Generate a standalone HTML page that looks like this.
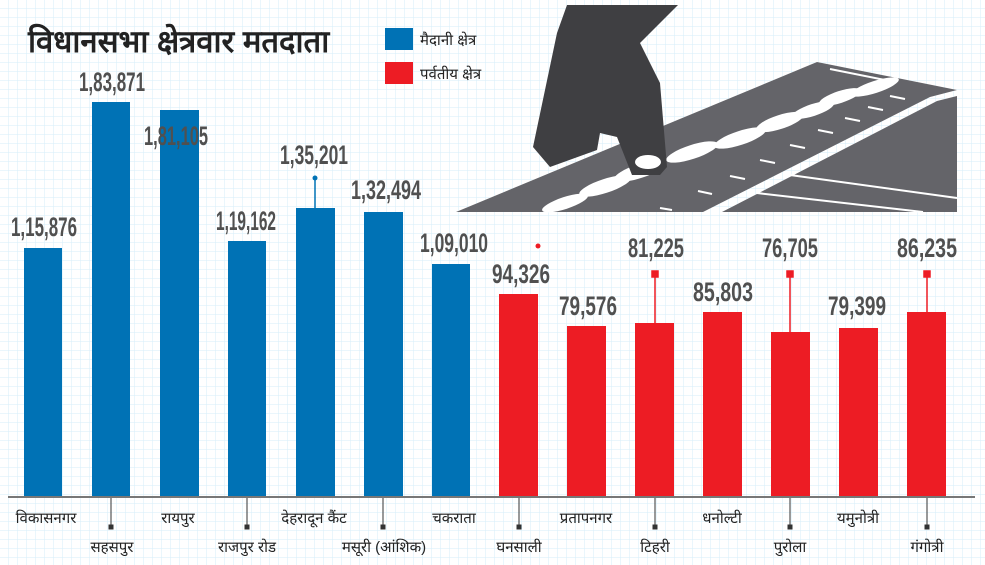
<!DOCTYPE html>
<html><head><meta charset="utf-8"><style>
html,body{margin:0;padding:0;background:#fff}
svg{display:block}
.v{font-family:"Liberation Sans Narrow","Liberation Sans",sans-serif;font-size:27px;font-weight:bold;fill:#505050}
.x{font-family:"Liberation Sans","Noto Sans CJK SC",sans-serif;font-size:15px;fill:#222}
</style></head><body>
<svg width="985" height="565" viewBox="0 0 985 565" xmlns="http://www.w3.org/2000/svg">
<defs>
<pattern id="g" width="9" height="9" patternUnits="userSpaceOnUse">
<path d="M9 0V9M0 9H9" stroke="#d6eefa" stroke-width="1" fill="none"/>
</pattern>
</defs>
<rect width="985" height="565" fill="#fff"/>
<rect width="985" height="565" fill="url(#g)"/>
<text x="28" y="52" font-family="Liberation Sans, Noto Sans CJK SC, sans-serif" font-size="31" font-weight="bold" fill="#222">विधानसभा क्षेत्रवार मतदाता</text>
<rect x="385" y="28" width="28" height="22" fill="#0072b5"/>
<rect x="385" y="62" width="28" height="22" fill="#ed1c24"/>
<text x="420" y="45" class="x" font-size="16">मैदानी क्षेत्र</text>
<text x="420" y="79" class="x" font-size="16">पर्वतीय क्षेत्र</text>
<polygon points="456,212 817,62 957,90 930,97 703,212" fill="#646469"/>
<polygon points="722,212 937,101 957,96 957,212" fill="#646469"/>
<line x1="757" y1="193" x2="923" y2="212" stroke="#fff" stroke-width="2"/>
<line x1="790" y1="175" x2="957" y2="198" stroke="#fff" stroke-width="2"/>
<g fill="#fff">
<ellipse cx="565" cy="203" rx="24" ry="6" transform="rotate(-18 565 203)"/>
<ellipse cx="605" cy="186" rx="27" ry="7" transform="rotate(-18 605 186)"/>
<ellipse cx="640" cy="171" rx="27" ry="7" transform="rotate(-18 640 171)"/>
<ellipse cx="692" cy="152" rx="27" ry="7" transform="rotate(-18 692 152)"/>
<ellipse cx="740" cy="138" rx="27" ry="7" transform="rotate(-18 740 138)"/>
<ellipse cx="780" cy="122" rx="25" ry="7" transform="rotate(-18 780 122)"/>
<ellipse cx="813" cy="110" rx="22" ry="6" transform="rotate(-18 813 110)"/>
<ellipse cx="840" cy="97" rx="22" ry="6" transform="rotate(-18 840 97)"/>
<ellipse cx="875" cy="87" rx="25" ry="6" transform="rotate(-18 875 87)"/>
</g>
<g stroke="#fff" stroke-width="2">
<line x1="660" y1="208" x2="672" y2="210"/><line x1="698" y1="191" x2="712" y2="194"/>
<line x1="730" y1="176" x2="745" y2="179"/><line x1="760" y1="160" x2="775" y2="163"/>
<line x1="790" y1="145" x2="805" y2="148"/><line x1="818" y1="130" x2="833" y2="133"/>
<line x1="845" y1="118" x2="860" y2="121"/><line x1="868" y1="107" x2="883" y2="110"/>
<line x1="890" y1="96" x2="905" y2="99"/><line x1="830" y1="69" x2="895" y2="82"/>
</g>
<polygon points="567,5 678,5 640,43 660,83 667,167 660,175 632,175 617,137 600,133 597,150 550,167 533,147 557,33" fill="#3f3f42"/>
<ellipse cx="648" cy="162" rx="13" ry="7" fill="#fff"/>
<g fill="#0072b5">
<rect x="24" y="248" width="38" height="248"/>
<rect x="92" y="102" width="38" height="394"/>
<rect x="160" y="110" width="39" height="386"/>
<rect x="228" y="241" width="38" height="255"/>
<rect x="296" y="208" width="39" height="288"/>
<rect x="364" y="212" width="39" height="284"/>
<rect x="432" y="264" width="38" height="232"/>
</g>
<g fill="#ed1c24">
<rect x="499" y="294" width="39" height="202"/>
<rect x="567" y="326" width="39" height="170"/>
<rect x="635" y="323" width="39" height="173"/>
<rect x="703" y="312" width="39" height="184"/>
<rect x="771" y="332" width="39" height="164"/>
<rect x="839" y="328" width="39" height="168"/>
<rect x="907" y="312" width="39" height="184"/>
</g>
<line x1="315" y1="208" x2="315" y2="178" stroke="#0072b5" stroke-width="1.5"/><circle cx="315" cy="178" r="2.5" fill="#0072b5"/>
<g stroke="#ed1c24" stroke-width="1.5" fill="#ed1c24">
<line x1="655" y1="323" x2="655" y2="274"/><rect x="652" y="271" width="6" height="6"/>
<line x1="790" y1="332" x2="790" y2="274"/><rect x="787" y="271" width="6" height="6"/>
<line x1="927" y1="312" x2="927" y2="274"/><rect x="924" y="271" width="6" height="6"/>
</g>
<circle cx="538" cy="246" r="2.5" fill="#ed1c24"/>
<g class="v" text-anchor="middle">
<text x="44" y="236" textLength="66" lengthAdjust="spacingAndGlyphs">1,15,876</text>
<text x="112" y="91" textLength="66" lengthAdjust="spacingAndGlyphs">1,83,871</text>
<text x="176" y="145" textLength="64" lengthAdjust="spacingAndGlyphs">1,81,105</text>
<text x="246" y="230" textLength="60" lengthAdjust="spacingAndGlyphs">1,19,162</text>
<text x="314" y="164" textLength="68" lengthAdjust="spacingAndGlyphs">1,35,201</text>
<text x="386" y="199" textLength="70" lengthAdjust="spacingAndGlyphs">1,32,494</text>
<text x="454" y="252" textLength="68" lengthAdjust="spacingAndGlyphs">1,09,010</text>
<text x="521" y="283" textLength="58" lengthAdjust="spacingAndGlyphs">94,326</text>
<text x="588" y="315" textLength="58" lengthAdjust="spacingAndGlyphs">79,576</text>
<text x="656" y="257" textLength="56" lengthAdjust="spacingAndGlyphs">81,225</text>
<text x="723" y="301" textLength="60" lengthAdjust="spacingAndGlyphs">85,803</text>
<text x="790" y="257" textLength="56" lengthAdjust="spacingAndGlyphs">76,705</text>
<text x="857" y="315" textLength="58" lengthAdjust="spacingAndGlyphs">79,399</text>
<text x="927" y="257" textLength="60" lengthAdjust="spacingAndGlyphs">86,235</text>
</g>
<line x1="8" y1="497" x2="975" y2="497" stroke="#777" stroke-width="2"/>
<g stroke="#333" stroke-width="1" fill="#333">
<line x1="111" y1="498" x2="111" y2="527"/><rect x="109" y="525" width="4" height="4"/>
<line x1="247" y1="498" x2="247" y2="527"/><rect x="245" y="525" width="4" height="4"/>
<line x1="383" y1="498" x2="383" y2="527"/><rect x="381" y="525" width="4" height="4"/>
<line x1="519" y1="498" x2="519" y2="527"/><rect x="517" y="525" width="4" height="4"/>
<line x1="655" y1="498" x2="655" y2="527"/><rect x="653" y="525" width="4" height="4"/>
<line x1="790" y1="498" x2="790" y2="527"/><rect x="788" y="525" width="4" height="4"/>
<line x1="927" y1="498" x2="927" y2="527"/><rect x="925" y="525" width="4" height="4"/>
</g>
<g class="x" text-anchor="middle">
<text x="46" y="523">विकासनगर</text>
<text x="112" y="552">सहसपुर</text>
<text x="178" y="523">रायपुर</text>
<text x="247" y="552">राजपुर रोड</text>
<text x="314" y="523">देहरादून कैंट</text>
<text x="384" y="552">मसूरी (आंशिक)</text>
<text x="454" y="523">चकराता</text>
<text x="519" y="552">घनसाली</text>
<text x="586" y="523">प्रतापनगर</text>
<text x="655" y="552">टिहरी</text>
<text x="722" y="523">धनोल्टी</text>
<text x="790" y="552">पुरोला</text>
<text x="858" y="523">यमुनोत्री</text>
<text x="927" y="552">गंगोत्री</text>
</g>
</svg>
</body></html>
